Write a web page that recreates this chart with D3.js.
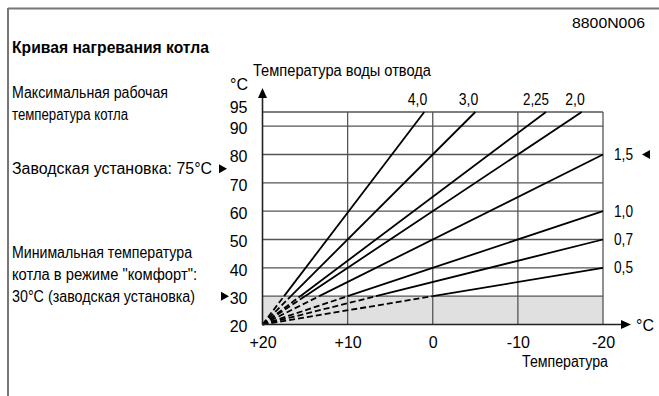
<!DOCTYPE html>
<html>
<head>
<meta charset="utf-8">
<script src="https://cdn.jsdelivr.net/npm/d3@7"></script>
<style>
  body { margin: 0; background: #fff; }
  svg { display: block; }
  text { font-family: "Liberation Sans", Arial, sans-serif; font-size: 16px; fill: #000; }
</style>
</head>
<body>
<svg width="659" height="396"></svg>
<script>
// heating curves: label, outdoor temp and supply temp at the top/right end
var curveLabels  = ["4,0", "3,0", "2,25", "2,0", "1,5", "1,0", "0,7", "0,5"];
var curveEndOut  = [1, -5, -13.3, -17.5, -20, -20, -20, -20];
var curveEndFlow = [95, 95, 95, 95, 80, 60, 50, 40];
var curveStart   = [20, 20];   // all curves start at +20 outdoor / 20 supply
var minComfort   = 30;         // below this the curves are dashed

var yTicks = [20, 30, 40, 50, 60, 70, 80, 90, 95];
var xTicks = [20, 10, 0, -10, -20];
var xTickLabels = ["+20", "+10", "0", "-10", "-20"];

var svg = d3.select("svg");

var x = d3.scaleLinear().domain([20, -20]).range([262.5, 603]);
var y = d3.scaleLinear().domain([20, 95]).range([324.5, 112]);

// text helper, squeezed to the width seen in the (condensed) original
function label(px, py, str, len, anchor) {
	var t = svg.append("text").attr("x", px).attr("y", py).text(str);
	if (len) t.attr("textLength", len).attr("lengthAdjust", "spacingAndGlyphs");
	if (anchor) t.attr("text-anchor", anchor);
	return t;
}

// small filled pointer triangles (dir 1 = right, -1 = left)
function pointer(px, py, dir) {
	svg.append("path")
		.attr("d", "M" + (px + 8 * dir) + "," + py + "L" + px + "," + (py - 4.5) + "L" + px + "," + (py + 4.5) + "Z")
		.attr("fill", "#000");
}

// frame
svg.append("line").attr("x1", 8).attr("x2", 659).attr("y1", 8.5).attr("y2", 8.5)
	.attr("stroke", "#777").attr("stroke-width", 2);
svg.append("line").attr("x1", 8).attr("x2", 8).attr("y1", 8).attr("y2", 396)
	.attr("stroke", "#777").attr("stroke-width", 2);

label(572, 28, "8800N006", 73).style("font-size", "15px");

// left hand texts
label(12, 53, "Кривая нагревания котла", 197).attr("font-weight", "bold");
label(12, 98, "Максимальная рабочая", 156);
label(12, 120, "температура котла", 116);
label(12, y(75) + 5, "Заводская установка: 75°C", 200);
pointer(219, y(75), 1);
label(12, 258, "Минимальная температура", 180);
label(12, 280, "котла в режиме \"комфорт\":", 185);
label(12, 302, "30°C (заводская установка)", 183);
pointer(221, y(30), 1);

// comfort zone
svg.append("rect")
	.attr("x", x(20)).attr("y", y(minComfort))
	.attr("width", x(-20) - x(20)).attr("height", y(20) - y(minComfort))
	.attr("fill", "#e0e0e0");

// grid
var grid = svg.append("g").attr("stroke", "#555").attr("stroke-width", 1.3);
grid.selectAll(".h").data(yTicks.filter(function(d) { return d > 20; }))
	.enter().append("line")
	.attr("x1", x(20)).attr("x2", x(-20))
	.attr("y1", function(d) { return y(d); }).attr("y2", function(d) { return y(d); });
grid.selectAll(".v").data(xTicks.filter(function(d) { return d < 20; }))
	.enter().append("line")
	.attr("x1", function(d) { return x(d); }).attr("x2", function(d) { return x(d); })
	.attr("y1", y(20)).attr("y2", y(95));

// curves
var curves = curveLabels.map(function(l, i) {
	var t = (minComfort - curveStart[1]) / (curveEndFlow[i] - curveStart[1]);
	return {
		label: l,
		x0: curveStart[0], y0: curveStart[1],
		xm: curveStart[0] + t * (curveEndOut[i] - curveStart[0]), ym: minComfort,
		x1: curveEndOut[i], y1: curveEndFlow[i]
	};
});

var cg = svg.append("g").attr("stroke", "#000").attr("stroke-width", 1.8).attr("fill", "none");
cg.selectAll(".dash").data(curves).enter().append("line")
	.attr("x1", function(d) { return x(d.x0); }).attr("y1", function(d) { return y(d.y0); })
	.attr("x2", function(d) { return x(d.xm); }).attr("y2", function(d) { return y(d.ym); })
	.attr("stroke-dasharray", "6,3");
cg.selectAll(".solid").data(curves).enter().append("line")
	.attr("x1", function(d) { return x(d.xm); }).attr("y1", function(d) { return y(d.ym); })
	.attr("x2", function(d) { return x(d.x1); }).attr("y2", function(d) { return y(d.y1); });

// curve labels
svg.selectAll(".toplab").data(curves.filter(function(d) { return d.y1 === 95; }))
	.enter().append("text")
	.attr("text-anchor", "end")
	.attr("x", function(d) { return x(d.x1) + 3; })
	.attr("y", y(95) - 7)
	.attr("textLength", function(d) { return d.label.length * 6.5; })
	.attr("lengthAdjust", "spacingAndGlyphs")
	.text(function(d) { return d.label; });
svg.selectAll(".rightlab").data(curves.filter(function(d) { return d.y1 < 95; }))
	.enter().append("text")
	.attr("x", x(-20) + 11)
	.attr("y", function(d) { return y(d.y1); })
	.attr("dy", "0.35em")
	.attr("textLength", 19)
	.attr("lengthAdjust", "spacingAndGlyphs")
	.text(function(d) { return d.label; });
pointer(650, y(80), -1);

// axes
var yAxis = svg.append("g").attr("transform", "translate(" + x(20) + ",0)")
	.call(d3.axisLeft(y).tickValues(yTicks).tickSize(0).tickPadding(15));
yAxis.select(".domain").remove();
yAxis.selectAll("text").style("font-size", "16px")
	.style("font-family", "'Liberation Sans', Arial, sans-serif")
	.attr("dy", function(d) { return d === 95 ? "0.05em" : "0.45em"; });

var xAxis = svg.append("g").attr("transform", "translate(0," + y(20) + ")")
	.call(d3.axisBottom(x).tickValues(xTicks).tickSize(0).tickPadding(12)
		.tickFormat(function(d, i) { return xTickLabels[i]; }));
xAxis.select(".domain").remove();
xAxis.selectAll("text").style("font-size", "16px")
	.style("font-family", "'Liberation Sans', Arial, sans-serif");

svg.append("line").attr("x1", x(20)).attr("x2", x(20)).attr("y1", y(20)).attr("y2", 97)
	.attr("stroke", "#222").attr("stroke-width", 1.6);
svg.append("path").attr("d", "M" + x(20) + ",88L" + (x(20) - 4.5) + ",98L" + (x(20) + 4.5) + ",98Z")
	.attr("fill", "#000");
svg.append("line").attr("x1", x(20)).attr("x2", 622).attr("y1", y(20)).attr("y2", y(20))
	.attr("stroke", "#222").attr("stroke-width", 1.6);
svg.append("path").attr("d", "M631," + y(20) + "L621," + (y(20) - 4.5) + "L621," + (y(20) + 4.5) + "Z")
	.attr("fill", "#000");

// axis titles
label(248, 90, "°C", null, "end");
label(636, y(20) + 6, "°C");
label(253, 76, "Температура воды отвода", 178);
label(522, 367, "Температура", 86);
</script>
</body>
</html>
